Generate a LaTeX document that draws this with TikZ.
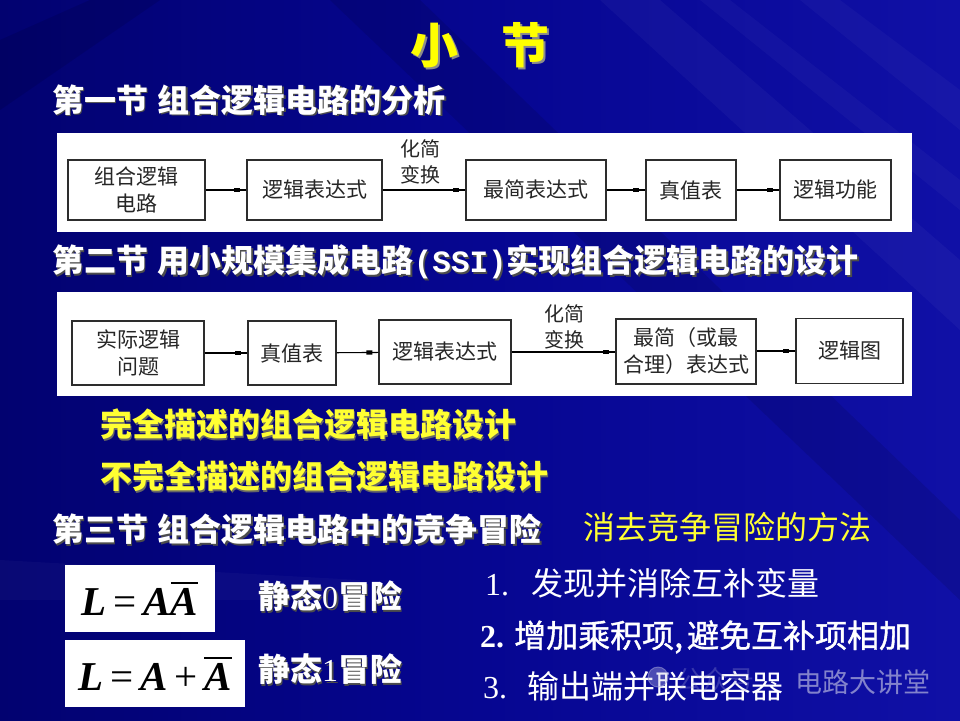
\documentclass[tikz,border=0pt]{standalone}
\usepackage{fontspec}
\setmainfont{Liberation Serif}
\newfontfamily\cjk{Noto Sans CJK SC}
\newfontfamily\mono{Liberation Mono}
\usetikzlibrary{decorations.markings}
\definecolor{bgdark}{RGB}{2,2,112}
\definecolor{bgmid}{RGB}{6,6,145}
\definecolor{bglight}{RGB}{16,16,166}
\definecolor{ttl}{RGB}{255,255,0}
\definecolor{ylw}{RGB}{255,255,50}
\definecolor{boxline}{RGB}{45,45,45}
\definecolor{wmk}{RGB}{160,160,215}
\newcommand{\shd}[2]{\makebox[0pt][l]{\hspace{1.6pt}\raisebox{-1.6pt}{\textcolor{#2}{#1}}}#1}
\newcommand{\ovl}[1]{\vbox{\hrule height 2.2pt \kern 4pt\hbox{#1}}}
\begin{document}
\begin{tikzpicture}[x=1pt,y=-1pt,
  hdr/.style={anchor=west,inner sep=0pt,text=white,font=\cjk\bfseries\fontsize{32}{36}\selectfont},
  yhdr/.style={anchor=west,inner sep=0pt,text=ylw,font=\cjk\bfseries\fontsize{32}{36}\selectfont},
  item/.style={anchor=west,inner sep=0pt,text=white,font=\cjk\fontsize{32}{36}\selectfont},
  panel/.style={fill=white,draw=none},
  blk/.style={draw=boxline,line width=1.2pt,fill=white,align=center,inner sep=1pt,
     font=\cjk\fontsize{21}{27}\selectfont,text=black!85},
  lbl/.style={align=center,inner sep=0pt,font=\cjk\fontsize{20}{26}\selectfont,text=black!85},
  conn/.style={draw=black,line width=1.1pt,postaction={decorate,decoration={markings,
     mark=at position -9pt with {\fill[black] (-3pt,-2.2pt) rectangle (3pt,2.2pt);}}}},
  fbox/.style={fill=white,inner sep=0pt,font=\fontsize{41}{46}\selectfont}
]
\useasboundingbox (0,0) rectangle (960,720);
% background
\shade[left color=bgdark,right color=bglight,middle color=bgmid] (0,0) rectangle (960,720);
\fill[white,opacity=0.035] (600,0) -- (660,0) -- (960,260) -- (960,330) -- cycle;
\fill[white,opacity=0.03] (700,0) -- (730,0) -- (960,180) -- (960,210) -- cycle;
\fill[white,opacity=0.03] (800,0) -- (840,0) -- (960,90) -- (960,130) -- cycle;
\fill[black,opacity=0.10] (330,0) -- (420,0) -- (960,520) -- (960,600) -- cycle;
\fill[black,opacity=0.10] (0,40) -- (0,110) -- (160,0) -- (90,0) -- cycle;
\fill[white,opacity=0.03] (0,560) -- (360,580) -- (360,600) -- (0,600) -- cycle;

% title
\node[inner sep=0pt,text=ttl,font=\cjk\bfseries\fontsize{48}{52}\selectfont] (title) at (480,46)
  {\shd{小}{black!45}\hspace{0.9em}\shd{节}{black!45}};

% section 1
\node[hdr] (s1) at (52,101) {\shd{第一节\hspace{0.3em}组合逻辑电路的分析}{black!70}};
\fill[panel] (57,133) rectangle (912,232);
\node[blk,minimum width=137,minimum height=60] (a1) at (136.5,190) {组合逻辑\\电路};
\node[blk,minimum width=135,minimum height=60] (a2) at (314.5,190) {逻辑表达式};
\node[blk,minimum width=140,minimum height=60] (a3) at (536,190) {最简表达式};
\node[blk,minimum width=90,minimum height=60] (a4) at (691,190) {真值表};
\node[blk,minimum width=111,minimum height=60] (a5) at (835.5,190) {逻辑功能};
\node[lbl] (l1) at (420,162) {化简\\变换};
\draw[conn] (a1) -- (a2);
\draw[conn] (a2) -- (a3);
\draw[conn] (a3) -- (a4);
\draw[conn] (a4) -- (a5);

% section 2
\node[hdr] (s2) at (52,263) {\shd{第二节\hspace{0.3em}用小规模集成电路{\mono\fontsize{31}{36}\selectfont(SSI)}实现组合逻辑电路的设计}{black!70}};
\fill[panel] (57,292) rectangle (912,396);
\node[blk,minimum width=132,minimum height=64] (b1) at (138,353) {实际逻辑\\问题};
\node[blk,minimum width=88,minimum height=64] (b2) at (292,353) {真值表};
\node[blk,minimum width=132,minimum height=64] (b3) at (445,352) {逻辑表达式};
\node[blk,minimum width=140,minimum height=65] (b4) at (686,351.5) {最简（或最\\合理）表达式};
\node[blk,minimum width=107,minimum height=65] (b5) at (849.5,351) {逻辑图};
\node[lbl] (l2) at (564,327) {化简\\变换};
\draw[conn] (b1) -- (b2);
\draw[conn] (b2) -- (b3);
\draw[conn] (b3.east) -- (b3.east -| b4.west);
\draw[conn] (b4.east |- b5.west) -- (b5.west);

\node[yhdr] (d1) at (100,425) {\shd{完全描述的组合逻辑电路设计}{black!60}};
\node[yhdr] (d2) at (100,477) {\shd{不完全描述的组合逻辑电路设计}{black!60}};

% section 3
\node[hdr] (s3) at (52,530) {\shd{第三节\hspace{0.3em}组合逻辑电路中的竞争冒险}{black!70}};
\node[item,text=ylw] (m) at (583,527) {消去竞争冒险的方法};

\node[fbox,minimum width=150,minimum height=67] (f1) at (140,598.5)
  {\bfseries\itshape L\,\mdseries\upshape=\,\bfseries\itshape A\ovl{A}};
\node[fbox,minimum width=180,minimum height=67] (f2) at (155,673.5)
  {\bfseries\itshape L\,\mdseries\upshape=\,\bfseries\itshape A\,\mdseries\upshape+\,\bfseries\itshape\ovl{A}};
\node[hdr] (z0) at (258,597) {\shd{静态{\rmfamily\mdseries 0}冒险}{black!70}};
\node[hdr] (z1) at (258,670) {\shd{静态{\rmfamily\mdseries 1}冒险}{black!70}};

\node[item] (i1) at (485,583) {{\rmfamily 1.}\hspace{22pt}发现并消除互补变量};
\node[item,font=\cjk\fontsize{32}{36}\selectfont\addfontfeature{FakeBold=1.2}] (i2) at (480,637) {{\rmfamily\bfseries 2.}\hspace{10pt}增加乘积项,\hspace{4pt}避免互补项相加};
\node[item] (i3) at (483,686) {{\rmfamily 3.}\hspace{20pt}输出端并联电容器};

% watermark
\draw[wmk,opacity=0.55,line width=1pt,fill=wmk!60,fill opacity=0.35] (658,677) circle (10);
\node[inner sep=0pt,anchor=west,text=wmk,opacity=0.3,font=\cjk\fontsize{26}{28}\selectfont] (w0) at (676,680) {公众号};
\node[inner sep=0pt,anchor=west,text=wmk,opacity=0.8,font=\cjk\fontsize{27}{30}\selectfont] (w1) at (795,682) {电路大讲堂};
\end{tikzpicture}
\end{document}
